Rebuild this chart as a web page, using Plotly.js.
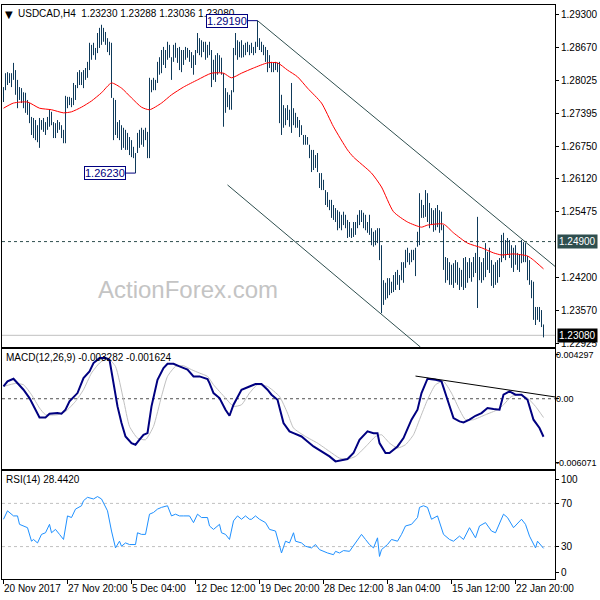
<!DOCTYPE html>
<html>
<head>
<meta charset="utf-8">
<script src="https://cdn.plot.ly/plotly-3.0.1.min.js"></script>
<style>html,body{margin:0;padding:0;background:#fff;}#chart{width:600px;height:600px;}</style>
</head>
<body>
<div id="chart"></div>
<script>
// ---- price bars (H4, one per bar index) ----
const barHigh = [1.2790,1.2817,1.2819,1.2817,1.2817,1.2837,1.2823,1.2804,1.2790,1.2788,
1.2780,1.2779,1.2765,1.2759,1.2732,1.2730,1.2726,1.2716,1.2730,1.2726,
1.2730,1.2722,1.2732,1.2746,1.2742,1.2722,1.2720,1.2726,1.2722,1.2716,
1.2707,1.2773,1.2771,1.2771,1.2769,1.2798,1.2794,1.2819,1.2823,1.2819,
1.2823,1.2827,1.2839,1.2876,1.2872,1.2876,1.2866,1.2895,1.2905,1.2911,
1.2905,1.2897,1.2885,1.2878,1.2876,1.2769,1.2765,1.2722,1.2726,1.2716,
1.2711,1.2707,1.2701,1.2693,1.2687,1.2674,1.2662,1.2701,1.2707,1.2711,
1.2707,1.2711,1.2703,1.2808,1.2804,1.2808,1.2804,1.2839,1.2848,1.2862,
1.2868,1.2862,1.2878,1.2872,1.2848,1.2872,1.2876,1.2866,1.2868,1.2862,
1.2862,1.2868,1.2866,1.2862,1.2858,1.2852,1.2862,1.2895,1.2885,1.2881,
1.2878,1.2878,1.2872,1.2878,1.2862,1.2843,1.2852,1.2856,1.2852,1.2847,
1.2817,1.2788,1.2780,1.2775,1.2784,1.2866,1.2895,1.2881,1.2878,1.2881,
1.2872,1.2876,1.2878,1.2872,1.2876,1.2868,1.2878,1.2919,1.2885,1.2878,
1.2872,1.2868,1.2862,1.2852,1.2839,1.2837,1.2839,1.2837,1.2839,1.2775,
1.2755,1.2749,1.2755,1.2746,1.2798,1.2749,1.2740,1.2732,1.2726,1.2716,
1.2697,1.2697,1.2693,1.2678,1.2668,1.2668,1.2658,1.2662,1.2623,1.2623,
1.2610,1.2590,1.2586,1.2571,1.2571,1.2561,1.2555,1.2551,1.2548,1.2542,
1.2548,1.2542,1.2532,1.2528,1.2516,1.2528,1.2528,1.2542,1.2551,1.2551,
1.2546,1.2542,1.2528,1.2542,1.2516,1.2509,1.2512,1.2516,1.2516,1.2483,
1.2415,1.2410,1.2419,1.2419,1.2412,1.2425,1.2431,1.2435,1.2425,1.2450,
1.2450,1.2474,1.2478,1.2468,1.2474,1.2474,1.2478,1.2509,1.2584,1.2571,
1.2561,1.2590,1.2584,1.2565,1.2555,1.2551,1.2555,1.2561,1.2551,1.2548,
1.2522,1.2460,1.2458,1.2450,1.2445,1.2448,1.2454,1.2450,1.2439,1.2435,
1.2458,1.2460,1.2450,1.2458,1.2450,1.2460,1.2468,1.2538,1.2460,1.2450,
1.2458,1.2487,1.2470,1.2478,1.2454,1.2445,1.2450,1.2454,1.2458,1.2503,
1.2507,1.2493,1.2497,1.2493,1.2483,1.2478,1.2483,1.2468,1.2464,1.2493,
1.2489,1.2487,1.2462,1.2454,1.2415,1.2412,1.2363,1.2363,1.2363,1.2357,
1.2329];
const barLow = [1.2761,1.2784,1.2794,1.2798,1.2790,1.2804,1.2775,1.2749,1.2765,1.2759,
1.2749,1.2740,1.2736,1.2720,1.2697,1.2691,1.2687,1.2683,1.2672,1.2707,
1.2703,1.2697,1.2707,1.2713,1.2716,1.2691,1.2691,1.2701,1.2707,1.2691,
1.2681,1.2681,1.2749,1.2755,1.2751,1.2755,1.2765,1.2788,1.2794,1.2794,
1.2788,1.2804,1.2808,1.2823,1.2843,1.2852,1.2843,1.2856,1.2866,1.2872,
1.2878,1.2872,1.2858,1.2852,1.2769,1.2687,1.2697,1.2691,1.2687,1.2668,
1.2672,1.2668,1.2668,1.2658,1.2654,1.2652,1.2623,1.2662,1.2672,1.2678,
1.2674,1.2687,1.2652,1.2652,1.2780,1.2784,1.2784,1.2798,1.2814,1.2817,
1.2833,1.2827,1.2843,1.2847,1.2804,1.2839,1.2847,1.2837,1.2823,1.2819,
1.2833,1.2843,1.2847,1.2839,1.2827,1.2814,1.2833,1.2856,1.2852,1.2848,
1.2858,1.2843,1.2847,1.2852,1.2790,1.2804,1.2800,1.2814,1.2819,1.2814,
1.2713,1.2740,1.2751,1.2746,1.2746,1.2780,1.2852,1.2843,1.2848,1.2847,
1.2848,1.2852,1.2858,1.2852,1.2856,1.2852,1.2856,1.2868,1.2862,1.2858,
1.2852,1.2839,1.2819,1.2827,1.2819,1.2819,1.2823,1.2819,1.2720,1.2697,
1.2711,1.2716,1.2726,1.2713,1.2701,1.2716,1.2711,1.2711,1.2693,1.2697,
1.2678,1.2678,1.2678,1.2652,1.2625,1.2629,1.2633,1.2625,1.2594,1.2590,
1.2590,1.2561,1.2557,1.2551,1.2536,1.2532,1.2528,1.2512,1.2516,1.2512,
1.2522,1.2516,1.2497,1.2499,1.2497,1.2499,1.2503,1.2516,1.2522,1.2528,
1.2516,1.2512,1.2507,1.2503,1.2483,1.2480,1.2483,1.2487,1.2454,1.2351,
1.2367,1.2377,1.2380,1.2386,1.2390,1.2392,1.2396,1.2406,1.2396,1.2415,
1.2410,1.2439,1.2450,1.2445,1.2450,1.2454,1.2423,1.2480,1.2483,1.2536,
1.2536,1.2538,1.2528,1.2516,1.2522,1.2509,1.2512,1.2518,1.2507,1.2512,
1.2435,1.2410,1.2415,1.2406,1.2406,1.2400,1.2410,1.2406,1.2396,1.2402,
1.2396,1.2400,1.2410,1.2419,1.2412,1.2421,1.2429,1.2361,1.2415,1.2410,
1.2415,1.2421,1.2435,1.2429,1.2404,1.2400,1.2406,1.2410,1.2421,1.2450,
1.2458,1.2454,1.2464,1.2458,1.2439,1.2431,1.2445,1.2435,1.2431,1.2448,
1.2450,1.2450,1.2415,1.2406,1.2380,1.2338,1.2328,1.2338,1.2334,1.2324,
1.2304];

// ---- moving average (red) ----
const maIdx = [0,5,12,18,24,30,34,39,44,49,54,59,64,69,73,79,84,90,97,104,110,114,119,125,132,137,142,147,152,159,165,172,175,184,189,195,202,209,212,220,225,232,239,245,249,255,262,265,270];
const maVal = [1.2749,1.2759,1.2761,1.2749,1.2746,1.2740,1.2742,1.2751,1.2763,1.2779,1.2798,1.2788,1.2769,1.2751,1.2746,1.2759,1.2775,1.2790,1.2804,1.2817,1.2817,1.2808,1.2817,1.2827,1.2837,1.2837,1.2823,1.2810,1.2788,1.2759,1.2713,1.2668,1.2654,1.2623,1.2596,1.2548,1.2528,1.2518,1.2522,1.2524,1.2507,1.2487,1.2478,1.2468,1.2464,1.2466,1.2462,1.2454,1.2437];

// ---- MACD(12,26,9) ----
const macdIdx = [0,2,5,7,10,13,15,17,18,21,23,27,29,31,33,37,39,40,43,45,48,51,53,55,57,59,61,64,66,68,70,72,74,77,80,82,85,88,92,95,98,102,103,105,108,111,113,115,119,123,126,129,132,134,137,140,143,145,149,152,155,159,163,166,169,172,175,178,182,185,187,188,191,193,197,200,204,207,209,212,216,219,222,225,228,230,233,236,239,242,245,248,250,253,256,259,262,265,268,270];
const macdVal = [0.00106,0.00150,0.00173,0.00135,0.00078,0.00006,-0.00066,-0.00138,-0.00161,-0.00161,-0.00130,-0.00124,-0.00130,-0.00095,-0.00023,0.00049,0.00135,0.00179,0.00236,0.00308,0.00351,0.00351,0.00337,0.00135,-0.00066,-0.00210,-0.00326,-0.00383,-0.00397,-0.00354,-0.00311,-0.00297,-0.00066,0.00164,0.00265,0.00302,0.00302,0.00279,0.00251,0.00193,0.00193,0.00170,0.00135,0.00049,0.00006,-0.00095,-0.00147,-0.00052,0.00078,0.00106,0.00127,0.00127,0.00078,0.00035,-0.00009,-0.00210,-0.00282,-0.00297,-0.00326,-0.00369,-0.00412,-0.00455,-0.00498,-0.00541,-0.00533,-0.00521,-0.00469,-0.00354,-0.00282,-0.00297,-0.00297,-0.00383,-0.00469,-0.00469,-0.00412,-0.00340,-0.00181,-0.00095,0.00049,0.00173,0.00164,0.00150,-0.00009,-0.00167,-0.00196,-0.00205,-0.00181,-0.00147,-0.00124,-0.00080,-0.00089,-0.00095,0.00035,0.00063,0.00035,0.00035,-0.00009,-0.00181,-0.00253,-0.00328];
const sigIdx = [0,6,10,14,18,21,27,31,36,40,44,48,52,56,60,63,67,71,75,79,82,86,90,94,98,102,105,111,115,119,123,127,132,138,142,145,151,157,163,168,172,176,182,186,189,193,197,201,205,208,212,216,220,224,228,231,235,241,247,250,254,258,262,266,270];
const sigVal = [0.00106,0.00132,0.00121,0.00035,-0.00080,-0.00138,-0.00138,-0.00110,-0.00023,0.00078,0.00222,0.00308,0.00351,0.00279,-0.00009,-0.00239,-0.00340,-0.00354,-0.00239,0.00020,0.00193,0.00279,0.00285,0.00251,0.00222,0.00193,0.00121,0.00006,-0.00066,-0.00052,0.00049,0.00121,0.00106,0.00020,-0.00124,-0.00253,-0.00326,-0.00383,-0.00455,-0.00513,-0.00521,-0.00498,-0.00397,-0.00326,-0.00311,-0.00383,-0.00426,-0.00397,-0.00311,-0.00181,-0.00009,0.00121,0.00150,0.00049,-0.00095,-0.00181,-0.00181,-0.00138,-0.00095,-0.00052,0.00020,0.00035,0.00006,-0.00066,-0.00162];

// ---- RSI(14) ----
const rsiIdx = [0,2,5,7,8,10,12,14,15,17,19,21,23,24,26,28,30,32,34,36,39,40,42,45,47,49,52,54,56,58,59,61,63,66,67,69,71,73,75,77,79,82,84,86,88,90,93,95,97,99,102,103,105,108,109,111,113,115,117,119,121,123,124,126,128,131,133,136,138,139,141,143,145,146,149,151,154,156,158,160,162,165,166,168,170,173,176,179,181,183,185,187,188,189,192,194,197,199,201,204,207,208,210,212,214,217,220,223,225,228,230,233,236,238,241,244,246,249,250,252,255,259,261,263,266,267,270];
const rsiVal = [55.3,63.1,58.4,58.4,50.6,49.1,47.5,35.0,36.6,33.4,41.3,42.8,50.6,42.8,45.9,41.3,36.6,58.4,56.9,64.7,67.8,72.5,75.6,74.1,76.3,74.1,63.1,44.4,28.8,35.0,30.3,33.4,31.9,31.9,42.8,41.3,41.3,60.0,61.6,64.7,66.3,67.8,58.4,60.0,58.4,58.4,58.4,52.2,60.0,56.9,56.9,49.1,45.9,50.6,42.8,41.3,36.6,53.8,58.4,55.3,58.4,55.3,55.3,58.4,55.3,52.2,45.9,44.4,30.3,24.1,35.0,33.4,42.8,35.0,33.4,30.3,28.8,31.9,27.2,25.6,24.1,22.5,25.6,24.1,26.3,25.6,33.4,41.3,36.6,31.9,28.8,38.1,20.9,27.2,31.9,36.6,35.0,41.3,49.1,50.6,56.9,66.3,67.8,66.3,55.3,58.4,41.3,36.6,35.0,39.7,36.6,47.5,38.1,49.1,52.2,44.4,42.8,56.9,60.0,56.9,47.5,55.3,50.6,39.7,28.8,35.0,28.4];

// ---- drawn trend lines (bar index / value) ----
const upperLineIdx = [127, 276], upperLinePrice = [1.2919, 1.2441];
const lowerLineIdx = [112, 208.5], lowerLinePrice = [1.2600, 1.2285];
const macdLineIdx = [206, 276], macdLineVal = [0.00196, 0.00015];
const levelPrice = 1.2490, bidPrice = 1.2308;
const rsiLevels = [70, 30];

// ---- axis labels ----
const xTickIdx = [0,32,64,96,128,160,192,224,256];
const xTickText = ['20 Nov 2017','27 Nov 20:00','5 Dec 04:00','12 Dec 12:00','19 Dec 20:00','28 Dec 12:00','8 Jan 04:00','15 Jan 12:00','22 Jan 20:00'];
const priceTicks = [1.29300,1.28670,1.28025,1.27395,1.26750,1.26120,1.25475,1.24200,1.23570,1.22925];
const macdTickPos = [0.00378, 0, -0.00555];
const macdTickText = ['0.004297', '0.00', '-0.006071'];
const rsiTickPos = [91.7, 70, 30, 5.6];
const rsiTickText = ['100', '70', '30', '0'];

// build bar segments
const bx = [], by = [];
barHigh.forEach((h, i) => { bx.push(i, i, null); by.push(barLow[i], h, null); });

const XR = [-0.75, 275.75];
const traces = [
  {x:[XR[0],XR[1]], y:[levelPrice, levelPrice], xaxis:'x', yaxis:'y', mode:'lines', line:{color:'#2f4f4f', width:1, dash:'3px,3px'}},
  {x:[XR[0],XR[1]], y:[bidPrice, bidPrice], xaxis:'x', yaxis:'y', mode:'lines', line:{color:'#c0c0c0', width:1}},
  {x:upperLineIdx, y:upperLinePrice, xaxis:'x', yaxis:'y', mode:'lines', line:{color:'#2f4f4f', width:1}},
  {x:lowerLineIdx, y:lowerLinePrice, xaxis:'x', yaxis:'y', mode:'lines', line:{color:'#2f4f4f', width:1}},
  {x:bx, y:by, xaxis:'x', yaxis:'y', mode:'lines', line:{color:'#0f3a5a', width:1}, connectgaps:false},
  {x:maIdx, y:maVal, xaxis:'x', yaxis:'y', mode:'lines', line:{color:'#ff0000', width:1, shape:'spline', smoothing:0.6}},
  {x:[XR[0],XR[1]], y:[0,0], xaxis:'x2', yaxis:'y2', mode:'lines', line:{color:'#505050', width:1, dash:'3px,3px'}},
  {x:sigIdx, y:sigVal, xaxis:'x2', yaxis:'y2', mode:'lines', line:{color:'#c0c0c0', width:1, shape:'spline', smoothing:0.5}},
  {x:macdIdx, y:macdVal, xaxis:'x2', yaxis:'y2', mode:'lines', line:{color:'#000080', width:2}},
  {x:macdLineIdx, y:macdLineVal, xaxis:'x2', yaxis:'y2', mode:'lines', line:{color:'#000000', width:1}},
  {x:[XR[0],XR[1]], y:[rsiLevels[0],rsiLevels[0]], xaxis:'x3', yaxis:'y3', mode:'lines', line:{color:'#c0c0c0', width:1, dash:'3px,3px'}},
  {x:[XR[0],XR[1]], y:[rsiLevels[1],rsiLevels[1]], xaxis:'x3', yaxis:'y3', mode:'lines', line:{color:'#c0c0c0', width:1, dash:'3px,3px'}},
  {x:rsiIdx, y:rsiVal, xaxis:'x3', yaxis:'y3', mode:'lines', line:{color:'#1e90ff', width:1}}
];

const FONT = 'Liberation Sans, Arial, sans-serif';
const xBase = {range:XR, showline:true, mirror:true, linecolor:'#000', linewidth:1, showgrid:false, zeroline:false, showticklabels:false, ticks:'', fixedrange:true};
const yBase = {side:'right', showline:true, mirror:true, linecolor:'#000', linewidth:1, showgrid:false, zeroline:false, ticks:'outside', ticklen:3, tickcolor:'#000', tickfont:{family:FONT, size:10, color:'#000'}, fixedrange:true};

const annotations = [];
xTickIdx.forEach((v, k) => annotations.push({xref:'x3', yref:'paper', x:v, y:0, xanchor:'left', yanchor:'top', yshift:-2, xshift:-2, text:xTickText[k], showarrow:false, font:{family:FONT, size:10, color:'#000'}}));
macdTickPos.forEach((v, k) => annotations.push({xref:'paper', yref:'y2', x:1, y:v, xanchor:'left', yanchor:'middle', xshift:0, text:macdTickText[k], showarrow:false, borderpad:0, font:{family:FONT, size:9, color:'#000'}}));
annotations.push(
  {xref:'paper', yref:'paper', x:0, y:1, xanchor:'left', yanchor:'top', xshift:1, yshift:-2, text:'▼', showarrow:false, font:{family:'DejaVu Sans, sans-serif', size:10, color:'#000'}},
  {xref:'paper', yref:'paper', x:0, y:1, xanchor:'left', yanchor:'top', xshift:14, yshift:-1, text:'USDCAD,H4  1.23230 1.23288 1.23036 1.23080', showarrow:false, font:{family:FONT, size:10, color:'#000'}},
  {xref:'paper', yref:'paper', x:0, y:0.4007, xanchor:'left', yanchor:'top', xshift:2, yshift:-1, text:'MACD(12,26,9) -0.003282 -0.001624', showarrow:false, font:{family:FONT, size:10, color:'#000'}},
  {xref:'paper', yref:'paper', x:0, y:0.1882, xanchor:'left', yanchor:'top', xshift:2, yshift:-1, text:'RSI(14) 28.4420', showarrow:false, font:{family:FONT, size:10, color:'#000'}},
  {xref:'paper', yref:'paper', x:0.336, y:0.5035, xanchor:'center', yanchor:'middle', text:'ActionForex.com', showarrow:false, font:{family:FONT, size:24, color:'#c4c4c4'}},
  {xref:'x', yref:'y', x:127, y:1.2919, ax:-31, ay:0, text:'1.29190', showarrow:true, arrowhead:0, arrowwidth:1, arrowcolor:'#000080', standoff:0, bgcolor:'#fff', bordercolor:'#000080', borderwidth:1, borderpad:0, font:{family:FONT, size:11, color:'#000080'}},
  {xref:'x', yref:'y', x:66, y:1.2623, ax:-31, ay:0, text:'1.26230', showarrow:true, arrowhead:0, arrowwidth:1, arrowcolor:'#000080', standoff:0, bgcolor:'#fff', bordercolor:'#000080', borderwidth:1, borderpad:0, font:{family:FONT, size:11, color:'#000080'}},
  {xref:'paper', yref:'y', x:1, y:levelPrice, xanchor:'left', yanchor:'middle', xshift:2, text:'1.24900', showarrow:false, bgcolor:'#2f4f4f', borderpad:1, font:{family:FONT, size:10, color:'#fff'}},
  {xref:'paper', yref:'y', x:1, y:bidPrice, xanchor:'left', yanchor:'middle', xshift:2, text:'1.23080', showarrow:false, bgcolor:'#000', borderpad:1, font:{family:FONT, size:10, color:'#fff'}}
);

const layout = {
  width:600, height:600, margin:{l:2, r:45, t:5, b:21},
  paper_bgcolor:'#fff', plot_bgcolor:'#fff', showlegend:false,
  font:{family:FONT, size:10, color:'#000'},
  xaxis:Object.assign({}, xBase, {anchor:'y'}),
  xaxis2:Object.assign({}, xBase, {anchor:'y2', matches:'x'}),
  xaxis3:Object.assign({}, xBase, {anchor:'y3', matches:'x', tickvals:xTickIdx, ticks:'outside', ticklen:4, tickcolor:'#000'}),
  yaxis:Object.assign({}, yBase, {domain:[0.4042, 1], range:[1.22853, 1.29494], anchor:'x', tickvals:priceTicks, ticktext:priceTicks.map(v => v.toFixed(5))}),
  yaxis2:Object.assign({}, yBase, {domain:[0.1916, 0.4007], range:[-0.006071, 0.004297], anchor:'x2', tickvals:macdTickPos, showticklabels:false}),
  yaxis3:Object.assign({}, yBase, {domain:[0, 0.1882], range:[0, 100], anchor:'x3', tickvals:rsiTickPos, ticktext:rsiTickText}),
  annotations:annotations
};

Plotly.newPlot('chart', traces, layout, {displayModeBar:false, staticPlot:true});
</script>
</body>
</html>
